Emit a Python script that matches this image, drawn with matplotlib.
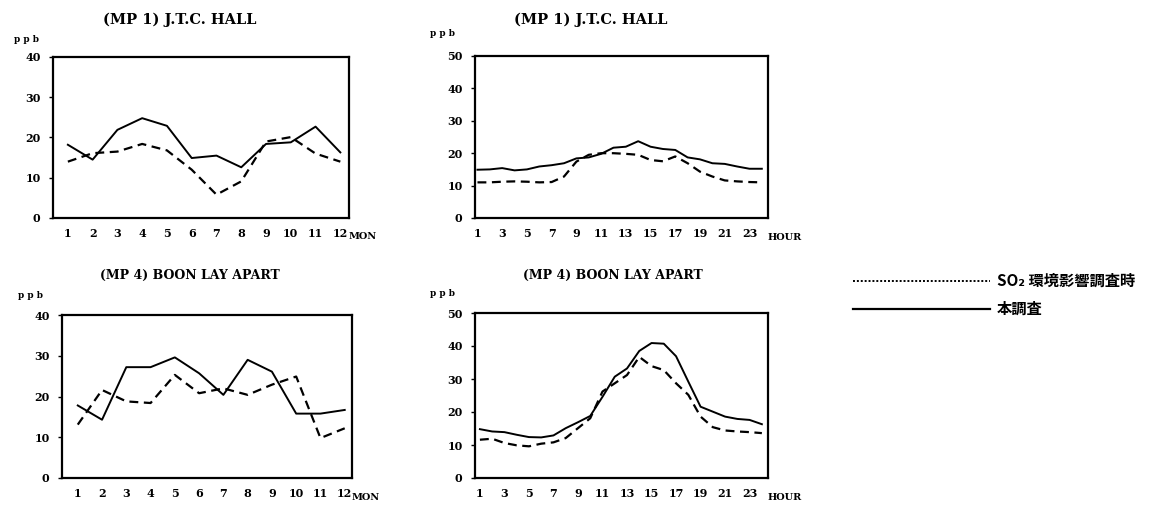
import matplotlib
matplotlib.use('Agg')
import matplotlib.pyplot as plt
import numpy as np

months = np.arange(1, 13)
hours = np.arange(1, 25)

# (MP 1) J.T.C. HALL - monthly
mp1_mon_now = [18.2, 14.5, 21.9, 24.8, 22.9, 14.9, 15.5, 12.6, 18.4, 18.8, 22.7, 16.3]
mp1_mon_eia = [14.0, 16.1, 16.5, 18.4, 16.8, 12.0, 5.8, 9.1, 19.0, 20.1, 16.0, 14.0]

# (MP 1) J.T.C. HALL - hourly
mp1_hr_now = [14.9, 15.0, 15.4, 14.7, 15.0, 15.9, 16.3, 16.9, 18.4, 18.7, 19.8, 21.7,
              22.0, 23.7, 22.0, 21.3, 21.0, 18.7, 18.1, 16.9, 16.7, 15.9, 15.2, 15.2]
mp1_hr_eia = [11.0, 11.0, 11.2, 11.3, 11.2, 11.0, 11.1, 12.8, 17.4, 19.5, 20.0, 20.0,
              19.8, 19.5, 17.9, 17.5, 19.0, 16.9, 14.3, 12.8, 11.6, 11.3, 11.1, 11.0]

# (MP 4) BOON LAY APART - monthly
mp4_mon_now = [17.8, 14.3, 27.2, 27.2, 29.6, 25.7, 20.4, 29.0, 26.1, 15.8, 15.8, 16.7]
mp4_mon_eia = [13.1, 21.6, 18.8, 18.4, 25.3, 20.8, 22.0, 20.4, 22.9, 24.9, 9.8, 12.2]

# (MP 4) BOON LAY APART - hourly
mp4_hr_now = [14.8, 14.1, 13.9, 13.1, 12.4, 12.3, 12.9, 15.1, 16.9, 18.8, 24.6, 30.7,
              33.2, 38.5, 40.9, 40.7, 36.9, 29.2, 21.6, 20.1, 18.6, 17.9, 17.6, 16.3]
mp4_hr_eia = [11.6, 11.9, 10.6, 9.9, 9.6, 10.4, 10.8, 12.1, 15.1, 18.1, 26.2, 28.7,
              31.2, 36.7, 33.9, 32.7, 28.7, 25.2, 18.6, 15.4, 14.4, 14.1, 13.9, 13.6]

title_mp1 = '(MP 1) J.T.C. HALL'
title_mp4 = '(MP 4) BOON LAY APART'
label_eia = 'SO₂ 環境影響調査時'
label_now = '本調査'

plt.rcParams['font.family'] = ['DejaVu Serif', 'Noto Sans CJK JP']
plt.rcParams['font.weight'] = 'bold'

fig = plt.figure(figsize=(11.69, 5.07), dpi=100)

W, H = 1169, 507

def box(l, t, r, b):
    return [l / W, 1 - b / H, (r - l) / W, (b - t) / H]

panels = [
    (box(53, 57, 349, 218), months, mp1_mon_now, mp1_mon_eia, 40, (0.4, 12.35), 'MON', title_mp1, 180, 20, 10.5, (26, 39)),
    (box(475, 56, 768, 218), hours, mp1_hr_now, mp1_hr_eia, 50, (0.8, 24.5), 'HOUR', title_mp1, 591, 20, 10.5, (443, 33)),
    (box(62, 315, 352, 478), months, mp4_mon_now, mp4_mon_eia, 40, (0.35, 12.3), 'MON', title_mp4, 190, 275, 9, (30, 296)),
    (box(475, 313, 768, 478), hours, mp4_hr_now, mp4_hr_eia, 50, (0.6, 24.5), 'HOUR', title_mp4, 613, 275, 9, (443, 293)),
]

for rect, x, now, eia, ymax, xlim, xunit, title, tx, ty, tsize, ppb in panels:
    ax = fig.add_axes(rect)
    ax.plot(x, now, color='black', linewidth=1.4, linestyle='-')
    ax.plot(x, eia, color='black', linewidth=1.6, linestyle=(0, (4, 2.5)))
    ax.set_xlim(*xlim)
    ax.set_ylim(0, ymax)
    ax.set_yticks(np.arange(0, ymax + 1, 10))
    if xunit == 'MON':
        ax.set_xticks(months)
    else:
        ax.set_xticks(np.arange(1, 24, 2))
    ax.tick_params(axis='x', length=0, pad=7, labelsize=8)
    ax.tick_params(axis='y', length=3, width=1, pad=6, labelsize=8)
    for s in ax.spines.values():
        s.set_linewidth(1.6)
    ax.text(1.0, -0.09, xunit, transform=ax.transAxes, fontsize=7,
            ha='left', va='top', fontweight='bold')
    fig.text(tx / W, 1 - ty / H, title, ha='center', va='center', fontsize=tsize, fontweight='bold')
    fig.text(ppb[0] / W, 1 - ppb[1] / H, 'p p b', ha='center', va='center', fontsize=6.5, fontweight='bold')

# legend
fig.add_artist(plt.Line2D([853 / W, 990 / W], [1 - 281 / H, 1 - 281 / H], color='black',
                          linewidth=1.4, linestyle=(0, (1, 1))))
fig.text(997 / W, 1 - 281 / H, label_eia, ha='left', va='center', fontsize=11,
         family=['Noto Sans CJK JP', 'DejaVu Sans'], fontweight='bold')
fig.add_artist(plt.Line2D([853 / W, 990 / W], [1 - 309 / H, 1 - 309 / H], color='black',
                          linewidth=1.6))
fig.text(997 / W, 1 - 309 / H, label_now, ha='left', va='center', fontsize=11,
         family=['Noto Sans CJK JP', 'DejaVu Sans'], fontweight='bold')

fig.savefig('out.png', dpi=100)
